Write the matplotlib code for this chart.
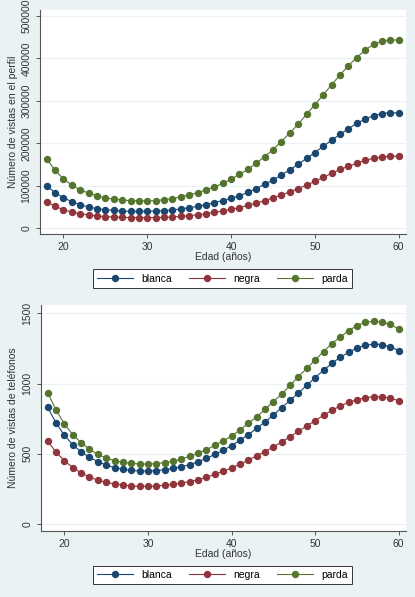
import numpy as np
import matplotlib
matplotlib.use("Agg")
import matplotlib.pyplot as plt

plt.rcParams["font.family"] = ["Liberation Sans", "DejaVu Sans"]

# --- data -------------------------------------------------------------------
edad = list(range(18, 61))
series = ["blanca", "negra", "parda"]

perfil_blanca = [100000, 83000, 71500, 62000, 55000, 49500, 45600, 43200, 41700, 40000,
                 39300, 39300, 39300, 40000, 41000, 42500, 45000, 48000, 51000, 55000,
                 60000, 64500, 70000, 76000, 84000, 93000, 103000, 113000, 125000, 137000,
                 150000, 164000, 178000, 193000, 207000, 221000, 234000, 247000, 257000,
                 265000, 270000, 272000, 271000]
perfil_negra = [62000, 51000, 43200, 37700, 33800, 30700, 28300, 26700, 26000, 25200,
                24400, 24400, 24400, 24400, 25200, 26000, 27500, 29000, 31400, 33800,
                37000, 40000, 44000, 48000, 53500, 59000, 64500, 71000, 78000, 85000,
                93000, 101000, 110000, 119500, 129000, 138000, 145500, 152500, 160000,
                164000, 167500, 169000, 169000]
perfil_parda = [163000, 136000, 116000, 101000, 90000, 82000, 76000, 71000, 68000, 66000,
                64500, 64000, 64000, 64500, 67000, 69000, 74000, 78000, 83000, 90000,
                97000, 105000, 115000, 127000, 138000, 153000, 168000, 185000, 204000, 224000,
                245000, 268000, 291000, 314000, 338000, 361000, 383000, 402000, 420000,
                433000, 440000, 444000, 443000]

tel_blanca = [830, 719, 631, 565, 513, 475, 444, 420, 401, 389, 382, 377, 377, 380, 387,
              396, 408, 422, 444, 467, 496, 524, 558, 596, 636, 681, 726, 776, 828, 880,
              933, 987, 1042, 1094, 1144, 1187, 1222, 1253, 1272, 1281, 1277, 1262, 1234]
tel_negra = [591, 510, 451, 401, 363, 335, 311, 297, 285, 278, 271, 268, 268, 271, 275,
             282, 292, 301, 316, 332, 354, 375, 399, 425, 453, 486, 515, 548, 584, 622,
             660, 698, 736, 774, 809, 840, 866, 885, 899, 906, 904, 895, 878]
tel_parda = [935, 812, 712, 636, 579, 532, 496, 470, 451, 439, 432, 427, 427, 430, 437,
             446, 463, 482, 505, 529, 560, 591, 626, 669, 717, 762, 816, 871, 925, 987,
             1049, 1108, 1167, 1227, 1284, 1331, 1376, 1412, 1436, 1443, 1438, 1421, 1388]

perfil_ticks = [0, 100000, 200000, 300000, 400000, 500000]
tel_ticks = [0, 500, 1000, 1500]
x_ticks = [20, 30, 40, 50, 60]

# --- style (Stata s2color-like) ---------------------------------------------
BG = "#eaf2f3"
COLORS = {"blanca": "#1a476f", "negra": "#90353b", "parda": "#55752f"}
AXC = "#555555"
TXT = "#333333"
W, H = 415, 597

fig = plt.figure(figsize=(W / 100, H / 100), dpi=100, facecolor=BG)


def px_axes(left, top, right, bottom):
    return fig.add_axes([left / W, 1 - bottom / H, (right - left) / W, (bottom - top) / H])


def panel(ax, data, yticks, ylim, ylabel):
    ax.set_facecolor("white")
    for name, vals in zip(series, data):
        ax.plot(edad, vals, color=COLORS[name], lw=0.8, marker="o", ms=4.3,
                mec=COLORS[name], mfc=COLORS[name], label=name, zorder=3)
    ax.set_xlim(17.2, 60.87)
    ax.set_ylim(*ylim)
    ax.set_xticks(x_ticks)
    ax.set_yticks(yticks)
    ax.set_yticklabels([str(t) for t in yticks], rotation=90, va="center")
    ax.grid(axis="y", color=BG, lw=0.8, zorder=0)
    for s in ("top", "right"):
        ax.spines[s].set_visible(False)
    for s in ("left", "bottom"):
        ax.spines[s].set_color(AXC)
        ax.spines[s].set_linewidth(0.8)
    ax.tick_params(colors=AXC, labelcolor=TXT, labelsize=7.5, length=3, width=0.7,
                   pad=3)
    ax.set_xlabel("Edad (años)", fontsize=7.5, color=TXT, labelpad=0)
    ax.set_ylabel(ylabel, fontsize=7.5, color=TXT, labelpad=3)


ax1 = px_axes(40, 10, 406, 234)
panel(ax1, [perfil_blanca, perfil_negra, perfil_parda], perfil_ticks,
      (-14150, 514150), "Número de vistas en el perfil")

ax2 = px_axes(41, 305, 406, 531)
panel(ax2, [tel_blanca, tel_negra, tel_parda], tel_ticks,
      (-50, 1559), "Número de vistas de teléfonos")


def legend(ax, cy):
    h, l = ax.get_legend_handles_labels()
    lg = fig.legend(h, l, loc="center", bbox_to_anchor=(222.5 / W, 1 - cy / H),
                    ncol=3, fontsize=7.5, frameon=True, fancybox=False,
                    handlelength=3.5, columnspacing=1.6, handletextpad=0.8,
                    borderpad=0.4, edgecolor="#333333", facecolor="white")
    lg.get_frame().set_linewidth(0.7)
    lg.get_frame().set_alpha(1)


legend(ax1, 278.5)
legend(ax2, 575)

fig.savefig("out.png", dpi=100, facecolor=BG)
